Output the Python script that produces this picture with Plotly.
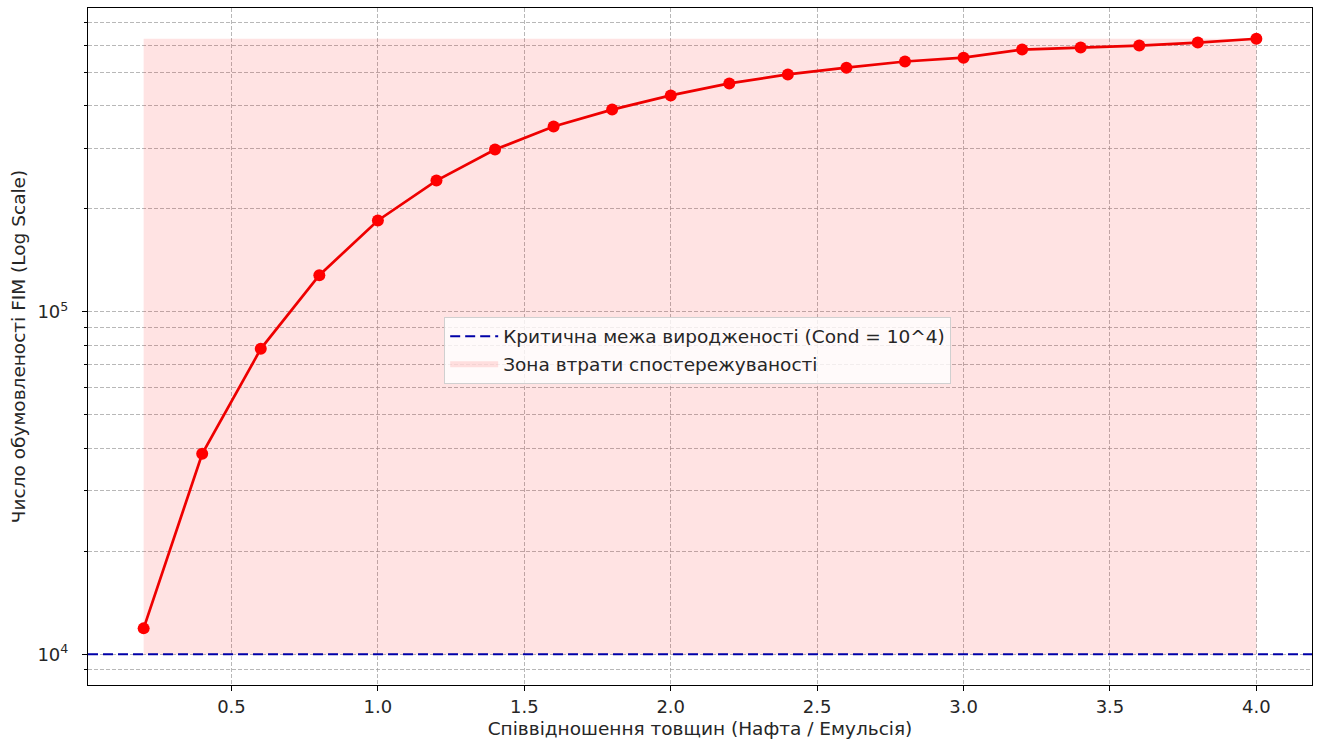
import numpy as np
import plotly.graph_objects as go

# Thickness ratio (oil / emulsion) and FIM condition number
ratio = [0.2, 0.4, 0.6, 0.8, 1.0, 1.2, 1.4, 1.6, 1.8, 2.0,
         2.2, 2.4, 2.6, 2.8, 3.0, 3.2, 3.4, 3.6, 3.8, 4.0]
cond_number = [1.19e4, 3.85e4, 7.8e4, 1.28e5, 1.85e5, 2.42e5, 2.98e5, 3.48e5, 3.90e5, 4.29e5,
               4.65e5, 4.94e5, 5.17e5, 5.39e5, 5.53e5, 5.84e5, 5.92e5, 6.00e5, 6.12e5, 6.28e5]
threshold = 1e4

x_ticks = [0.5, 1.0, 1.5, 2.0, 2.5, 3.0, 3.5, 4.0]
x_tick_text = ["0.5", "1.0", "1.5", "2.0", "2.5", "3.0", "3.5", "4.0"]

line_label = "Критична межа виродженості (Cond = 10^4)"
zone_label = "Зона втрати спостережуваності"
x_title = "Співвідношення товщин (Нафта / Емульсія)"
y_title = "Число обумовленості FIM (Log Scale)"

FONT = "DejaVu Sans, Verdana, sans-serif"
GRID = "rgba(160,160,160,0.75)"
TEXT = "#262626"
LABEL_SIZE = 18.5
TICK_SIZE = 18

# axis limits with 5% padding (log space for y)
x_lo, x_hi = min(ratio), max(ratio)
x_pad = 0.05 * (x_hi - x_lo)
y_lo, y_hi = np.log10(min(threshold, min(cond_number))), np.log10(max(cond_number))
y_pad = 0.05 * (y_hi - y_lo)
y_range = [y_lo - y_pad, y_hi + y_pad]

decades = range(int(np.floor(y_range[0])), int(np.ceil(y_range[1])) + 1)
major_y = [10.0 ** d for d in decades if y_range[0] <= d <= y_range[1]]
minor_y = [m * 10.0 ** d for d in decades for m in range(2, 10)
           if y_range[0] <= np.log10(m * 10.0 ** d) <= y_range[1]]

fig = go.Figure()

# shaded zone between the threshold and the curve maximum
fig.add_trace(go.Scatter(
    x=[ratio[0], ratio[-1], ratio[-1], ratio[0], ratio[0]],
    y=[threshold, threshold, max(cond_number), max(cond_number), threshold],
    fill="toself", fillcolor="rgba(255,0,0,0.11)",
    mode="lines", line=dict(width=0, color="rgba(255,0,0,0.11)"),
    name=zone_label, legendrank=2, hoverinfo="skip",
))

fig.add_trace(go.Scatter(
    x=ratio, y=cond_number, mode="lines+markers",
    line=dict(color="#ee0000", width=2.7),
    marker=dict(color="#ff0000", size=12),
    showlegend=False,
))

fig.add_hline(
    y=threshold, line=dict(color="#0000a8", width=2, dash="10px,5px"),
    showlegend=True, name=line_label, legendrank=1,
)

fig.update_layout(
    width=1319, height=744,
    margin=dict(l=88, r=7, t=8, b=59),
    paper_bgcolor="white", plot_bgcolor="white",
    font=dict(family=FONT, size=TICK_SIZE, color=TEXT),
    showlegend=True,
    legend=dict(
        x=0.291, y=0.544, xanchor="left", yanchor="top",
        bgcolor="rgba(255,255,255,0.8)", bordercolor="#d0d0d0", borderwidth=1,
        font=dict(family=FONT, size=LABEL_SIZE, color=TEXT),
        tracegroupgap=0, itemwidth=48,
    ),
    xaxis=dict(
        range=[x_lo - x_pad, x_hi + x_pad],
        tickvals=x_ticks, ticktext=x_tick_text,
        ticks="outside", ticklen=5, tickcolor="black",
        tickfont=dict(size=TICK_SIZE),
        showgrid=True, gridcolor=GRID, griddash="4px,2px", gridwidth=1,
        showline=True, linecolor="black", linewidth=1.2, mirror=True,
        zeroline=False, automargin=False,
        title=dict(text=x_title, standoff=6, font=dict(size=LABEL_SIZE)),
    ),
    yaxis=dict(
        type="log", range=y_range,
        tickvals=major_y,
        ticktext=["10<sup>%d</sup>" % int(round(np.log10(v))) for v in major_y],
        ticks="outside", ticklen=5, tickcolor="black",
        tickfont=dict(size=TICK_SIZE), ticklabelstandoff=10,
        showgrid=True, gridcolor=GRID, griddash="4px,2px", gridwidth=1,
        minor=dict(tickvals=minor_y, ticks="outside", ticklen=3, tickcolor="black",
                   showgrid=True, gridcolor=GRID, griddash="4px,2px", gridwidth=1),
        showline=True, linecolor="black", linewidth=1.2, mirror=True,
        zeroline=False, automargin=False,
        title=dict(text=y_title, standoff=6, font=dict(size=LABEL_SIZE)),
    ),
)

fig.write_html("out.html")
